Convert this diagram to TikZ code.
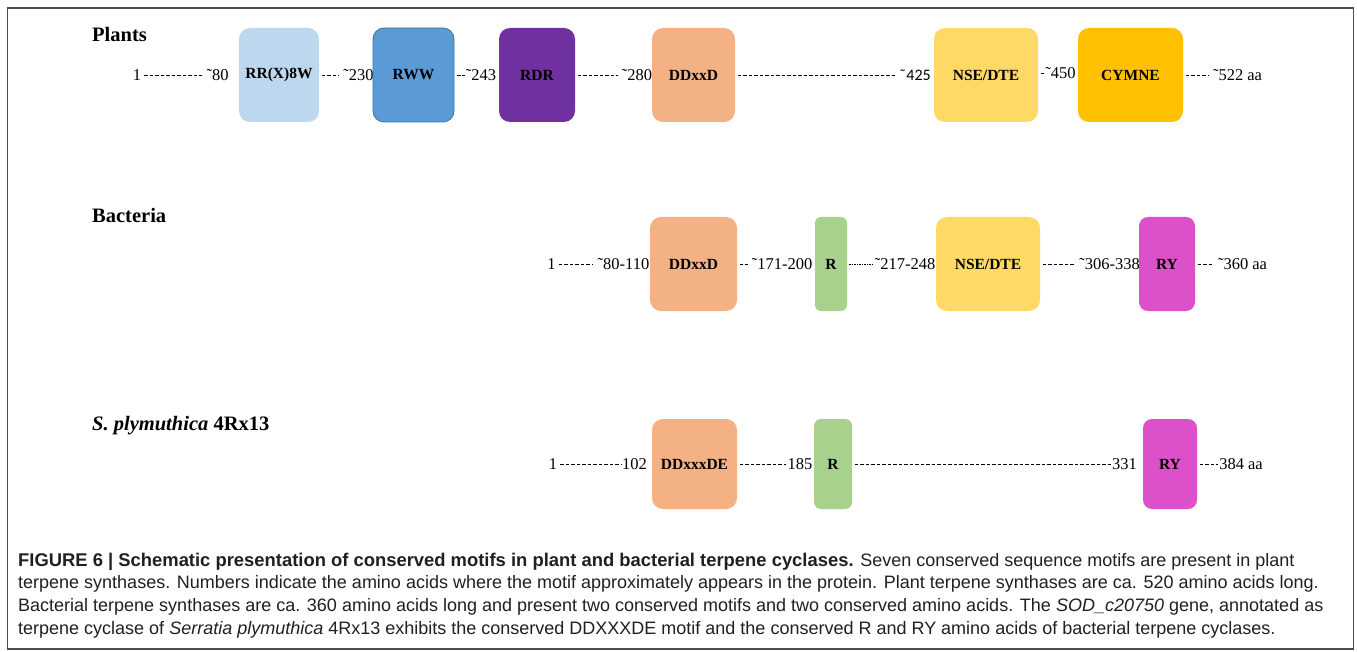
\documentclass[tikz,border=0pt]{standalone}
\usepackage{fontspec}
\setmainfont{Liberation Serif}
\newfontfamily\capfont{Liberation Sans}
\newfontfamily\calfont{Carlito}

\definecolor{lblue}{HTML}{BDD7EE}
\definecolor{mblue}{HTML}{5B9BD5}
\definecolor{dblue}{HTML}{41719C}
\definecolor{purp}{HTML}{7030A0}
\definecolor{peach}{HTML}{F4B183}
\definecolor{lgold}{HTML}{FFD966}
\definecolor{gold}{HTML}{FFC000}
\definecolor{lgreen}{HTML}{A9D18E}
\definecolor{magen}{HTML}{DC50C9}
\definecolor{captext}{HTML}{231F20}

\begin{document}
\begin{tikzpicture}[x=1pt,y=-1pt,
    motif/.style={rounded corners=11pt,inner sep=0pt,minimum height=94pt,font=\fontsize{15.5}{18}\selectfont\bfseries},
    num/.style={inner sep=0.5pt,text height=11pt,text depth=0pt,font=\fontsize{16.5}{19}\selectfont},
    hyph/.style={line width=0.9pt,dash pattern=on 3.6pt off 1.9pt,shorten <=2.5pt,shorten >=3.5pt},
    tight/.style={shorten >=0.5pt},
    thinhyph/.style={line width=0.5pt,dash pattern=on 1.6pt off 0.9pt,shorten <=2pt,shorten >=1pt},
    rowlabel/.style={anchor=base west,inner sep=0pt,font=\fontsize{20.5}{24}\selectfont\bfseries},
    capline/.style={anchor=base west,inner sep=0pt,text=captext,font=\capfont\fontsize{18}{22}\selectfont}]
                      \useasboundingbox (0,0) rectangle (1357,652);
                      \fill[white] (0,0) rectangle (1357,652);
                      \draw[line width=1.2pt,black!70] (7.5,8) rectangle (1353.5,649);
                      \node[rowlabel] (LPlants) at (92,42) {Plants};
                      \node[num] (P1) at (137,75) {1};
                      \node[num] (P80) at (217.5,75) {˜80};
                      \node[motif,fill=lblue,minimum width=80pt] (PRR) at (279,75) {RR(X)8W};
                      \node[num] (P230) at (358.5,75) {˜230};
                      \node[motif,fill=mblue,draw=dblue,line width=0.8pt,minimum width=81pt] (PRWW) at (413.5,75) {RWW};
                      \node[num] (P243) at (481,75) {˜243};
                      \node[motif,fill=purp,minimum width=76pt] (PRDR) at (537,75) {RDR};
                      \node[num] (P280) at (637,75) {˜280};
                      \node[motif,fill=peach,minimum width=83pt] (PDD) at (693.5,75) {DDxxD};
                      \node[num,font=\calfont\fontsize{16}{19}\selectfont] (P425) at (915,75) {˜425};
                      \node[motif,fill=lgold,minimum width=104pt] (PNSE) at (986,75) {NSE/DTE};
                      \node[num] (P450) at (1060.5,73) {˜450};
                      \node[motif,fill=gold,minimum width=105pt] (PCY) at (1130.5,75) {CYMNE};
                      \node[num] (P522) at (1237.5,75) {˜522 aa};
                      \path[hyph] (P1) edge (P80) (PRR) edge (P230) (PRWW) edge[tight] (P243);
                      \path[hyph] (PRDR) edge (P280) (PDD) edge (P425);
                      \path[hyph] (PNSE.east |- P450) edge[tight] (P450) (PCY) edge (P522);
                      \node[rowlabel] (LBact) at (92,223) {Bacteria};
                      \node[num] (B1) at (551.5,264) {1};
                      \node[num] (B80) at (623.5,264) {˜80-110};
                      \node[motif,fill=peach,minimum width=87pt] (BDD) at (693.5,264) {DDxxD};
                      \node[num] (B171) at (782,264) {˜171-200};
                      \node[motif,fill=lgreen,rounded corners=6pt,minimum width=32pt] (BR) at (831,264) {R};
                      \node[num] (B217) at (905,264) {˜217-248};
                      \node[motif,fill=lgold,minimum width=104pt] (BNSE) at (988,264) {NSE/DTE};
                      \node[num] (B306) at (1109.5,264) {˜306-338};
                      \node[motif,fill=magen,rounded corners=9pt,minimum width=56pt] (BRY) at (1167,264) {RY};
                      \node[num] (B360) at (1242.5,264) {˜360 aa};
                      \path[hyph] (B1) edge (B80) (BDD) edge (B171);
                      \path[thinhyph] (BR) edge (B217);
                      \path[hyph] (BNSE) edge (B306) (BRY) edge (B360);
                      \node[rowlabel] (LSply) at (92,430) {\textit{S. plymuthica} 4Rx13};
                      \node[num] (S1) at (553,464) {1};
                      \node[num] (S102) at (634.5,464) {102};
                      \node[motif,fill=peach,minimum width=85pt,minimum height=90pt] (SDD) at (694.5,464) {DDxxxDE};
                      \node[num] (S185) at (800,464) {185};
                      \node[motif,fill=lgreen,rounded corners=7pt,minimum width=38pt,minimum height=90pt] (SR) at (833,464) {R};
                      \node[num] (S331) at (1124.5,464) {331};
                      \node[motif,fill=magen,rounded corners=9pt,minimum width=54pt,minimum height=90pt] (SRY) at (1170,464) {RY};
                      \node[num] (S384) at (1241,464) {384 aa};
                      \path[hyph] (S1) edge[tight] (S102) (SDD) edge[tight] (S185);
                      \path[hyph] (SR) edge[tight] (S331) (SRY) edge[tight] (S384);
                      \node[capline] (Cap1) at (18,566) {{\fontsize{18.4}{22}\selectfont\bfseries FIGURE 6 | Schematic presentation of conserved motifs in plant and bacterial terpene cyclases.} Seven conserved sequence motifs are present in plant};
                      \node[capline] (Cap2) at (18,588.5) {terpene synthases. Numbers indicate the amino acids where the motif approximately appears in the protein. Plant terpene synthases are ca. 520 amino acids long.};
                      \node[capline] (Cap3) at (18,611) {Bacterial terpene synthases are ca. 360 amino acids long and present two conserved motifs and two conserved amino acids. The \textit{SOD\_c20750} gene, annotated as};
                      \node[capline] (Cap4) at (18,634) {terpene cyclase of \textit{Serratia plymuthica} 4Rx13 exhibits the conserved DDXXXDE motif and the conserved R and RY amino acids of bacterial terpene cyclases.};
                    \end{tikzpicture}
\end{document}
